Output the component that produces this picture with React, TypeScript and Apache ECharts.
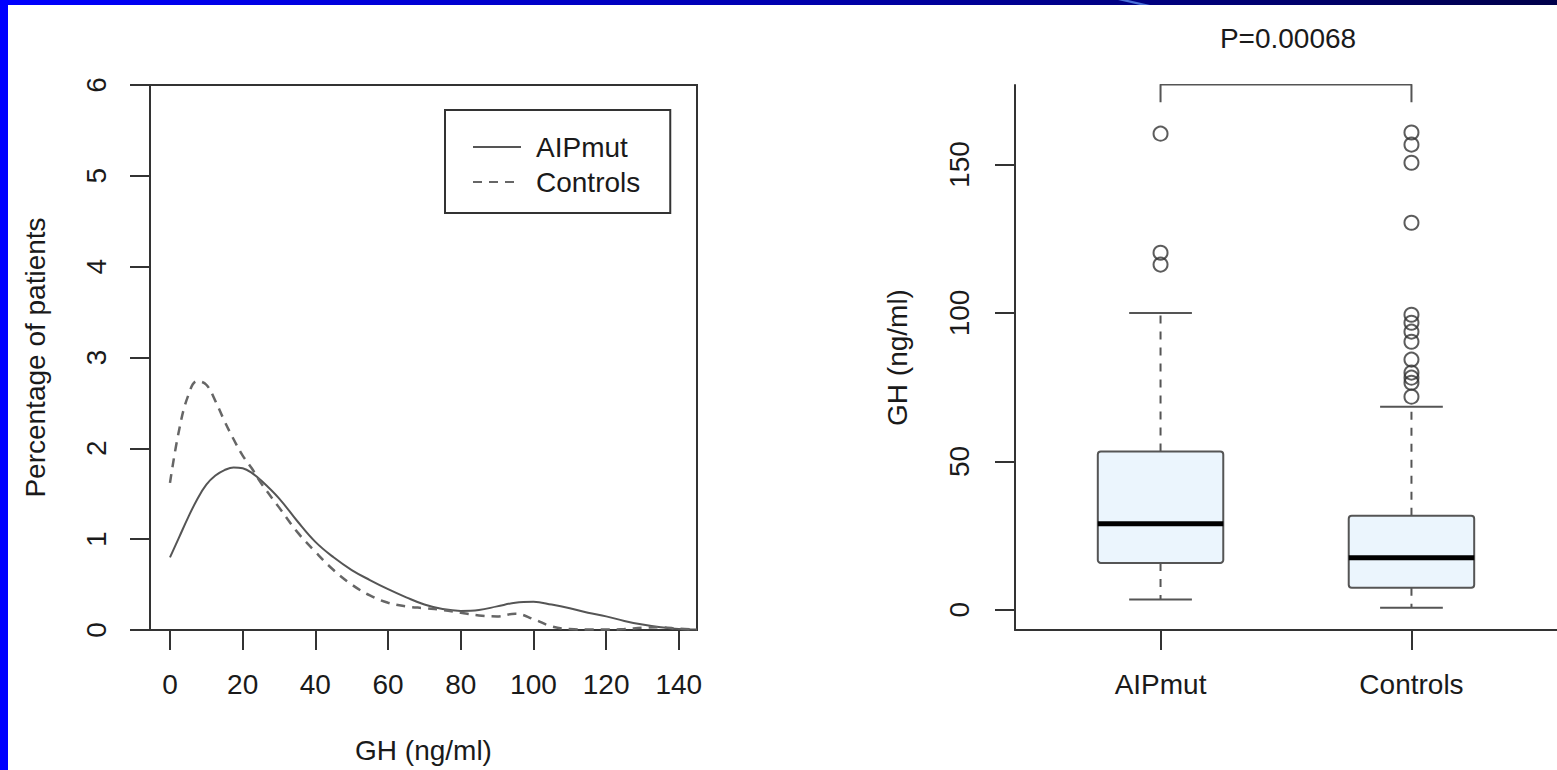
import React, { useEffect, useRef } from "react";
import * as echarts from "echarts";

// ---- Left panel: density curves ----
const densityX = [0, 2.5, 5, 7.5, 10, 12.5, 15, 17.5, 20, 22.5, 25, 30, 35, 40, 45, 50, 55, 60, 65, 70, 75, 80, 85, 90, 95, 100, 105, 110, 115, 120, 125, 130, 135, 140, 145];
const aipmutDensity = [0.8, 1.02, 1.24, 1.44, 1.6, 1.7, 1.76, 1.79, 1.78, 1.73, 1.65, 1.45, 1.2, 0.97, 0.8, 0.66, 0.55, 0.45, 0.36, 0.28, 0.23, 0.21, 0.22, 0.26, 0.3, 0.31, 0.28, 0.24, 0.19, 0.15, 0.1, 0.06, 0.03, 0.01, 0.005];
const controlsDensity = [1.62, 2.2, 2.58, 2.74, 2.7, 2.52, 2.3, 2.1, 1.92, 1.78, 1.62, 1.35, 1.08, 0.86, 0.66, 0.5, 0.38, 0.3, 0.26, 0.24, 0.22, 0.19, 0.16, 0.15, 0.18, 0.12, 0.04, 0.01, 0.005, 0.005, 0.01, 0.025, 0.03, 0.015, 0.005];
const densityXTicks = [0, 20, 40, 60, 80, 100, 120, 140];
const densityYTicks = [0, 1, 2, 3, 4, 5, 6];

// ---- Right panel: boxplot ----
const groups = ["AIPmut", "Controls"];
// [low whisker, Q1, median, Q3, high whisker]
const aipmutBox = [3.5, 15.8, 29, 53.3, 100];
const controlsBox = [0.7, 7.4, 17.5, 31.7, 68.4];
const aipmutOutliers = [160.4, 120.3, 116.3];
const controlsOutliers = [160.8, 156.7, 150.6, 130.4, 99.4, 96.7, 93.7, 90.3, 84.3, 79.9, 78.2, 76.5, 71.8];
const boxYTicks = [0, 50, 100, 150];
const pValueText = "P=0.00068";
const bracketLow = 171;
const bracketHigh = 177;

const FONT = "Liberation Sans";
const AXIS = "#333";
const TXT = "#1a1a1a";

export default function App() {
  const ref = useRef<HTMLDivElement>(null);

  useEffect(() => {
    if (!ref.current) return;
    const chart = echarts.init(ref.current, undefined, { renderer: "svg" });

    const lineA = densityX.map((x, i) => [x, aipmutDensity[i]]);
    const lineC = densityX.map((x, i) => [x, controlsDensity[i]]);
    const boxData = [
      [1, ...aipmutBox],
      [2, ...controlsBox],
    ];
    const outlierData = [
      ...aipmutOutliers.map((v) => [1, v]),
      ...controlsOutliers.map((v) => [2, v]),
    ];
    const bracket = [
      [1, bracketLow],
      [1, bracketHigh],
      [2, bracketHigh],
      [2, bracketLow],
    ];

    const labelStyle = { fontFamily: FONT, fontSize: 28, color: TXT };

    chart.setOption({
      animation: false,
      backgroundColor: "#ffffff",
      textStyle: { fontFamily: FONT },
      legend: {
        show: true,
        orient: "vertical",
        left: 445,
        top: 110,
        padding: [22, 30, 16, 27],
        itemGap: 5,
        itemWidth: 48,
        itemHeight: 30,
        borderColor: AXIS,
        borderWidth: 2,
        borderRadius: 0,
        data: ["AIPmut", "Controls"],
        itemStyle: { opacity: 0 },
        textStyle: { fontFamily: FONT, fontSize: 28, color: TXT, lineHeight: 30, padding: [0, 0, 0, 10] },
      },
      grid: [
        { left: 150, top: 85, width: 547, height: 545, show: true, borderColor: AXIS, borderWidth: 2, backgroundColor: "transparent" },
        { left: 1015, top: 85, width: 547, height: 545, show: false },
      ],
      xAxis: [
        {
          gridIndex: 0,
          type: "value",
          min: -5.5,
          max: 145,
          name: "GH (ng/ml)",
          nameLocation: "middle",
          nameGap: 106,
          nameTextStyle: labelStyle,
          axisLine: { show: false, onZero: false },
          axisTick: { show: true, length: 20, customValues: densityXTicks, lineStyle: { color: AXIS, width: 2 } },
          axisLabel: { customValues: densityXTicks, margin: 40, ...labelStyle },
          splitLine: { show: false },
        },
        {
          gridIndex: 1,
          type: "value",
          min: 0.42,
          max: 2.58,
          axisLine: { show: true, onZero: false, lineStyle: { color: AXIS, width: 2 } },
          axisTick: { show: true, length: 20, customValues: [1, 2], lineStyle: { color: AXIS, width: 2 } },
          axisLabel: {
            customValues: [1, 2],
            margin: 40,
            formatter: (v: number) => groups[Math.round(v) - 1] ?? "",
            ...labelStyle,
          },
          splitLine: { show: false },
        },
      ],
      yAxis: [
        {
          gridIndex: 0,
          type: "value",
          min: 0,
          max: 6,
          name: "Percentage of patients",
          nameLocation: "middle",
          nameRotate: 90,
          nameGap: 101,
          nameTextStyle: labelStyle,
          axisLine: { show: false, onZero: false },
          axisTick: { show: true, length: 20, customValues: densityYTicks, lineStyle: { color: AXIS, width: 2 } },
          axisLabel: { customValues: densityYTicks, rotate: 90, margin: 40, ...labelStyle },
          splitLine: { show: false },
        },
        {
          gridIndex: 1,
          type: "value",
          min: -6.8,
          max: 176.8,
          name: "GH (ng/ml)",
          nameLocation: "middle",
          nameRotate: 90,
          nameGap: 104,
          nameTextStyle: labelStyle,
          axisLine: { show: true, onZero: false, lineStyle: { color: AXIS, width: 2 } },
          axisTick: { show: true, length: 20, customValues: boxYTicks, lineStyle: { color: AXIS, width: 2 } },
          axisLabel: { customValues: boxYTicks, rotate: 90, margin: 42, ...labelStyle },
          splitLine: { show: false },
        },
      ],
      graphic: [
        {
          type: "rect",
          shape: { x: 0, y: 0, width: 1557, height: 5 },
          style: {
            fill: new echarts.graphic.LinearGradient(0, 0, 1, 0, [
              { offset: 0, color: "#0000ff" },
              { offset: 0.5, color: "#0000b0" },
              { offset: 1, color: "#00004a" },
            ]),
          },
          z: 100,
        },
        {
          type: "polygon",
          shape: { points: [[1118, 0], [1128, 0], [1150, 5], [1140, 5]] },
          style: { fill: "#4a6fd8" },
          z: 101,
        },
        {
          type: "rect",
          shape: { x: 0, y: 0, width: 8, height: 770 },
          style: { fill: "#0000ff" },
          z: 102,
        },
        {
          type: "text",
          x: 1288,
          y: 38,
          style: {
            text: pValueText,
            fontFamily: FONT,
            fontSize: 28,
            fill: TXT,
            align: "center",
            verticalAlign: "middle",
          },
        },
      ],
      series: [
        {
          name: "AIPmut",
          type: "line",
          xAxisIndex: 0,
          yAxisIndex: 0,
          data: lineA,
          smooth: 0.4,
          symbol: "none",
          lineStyle: { color: "#555", width: 2, type: "solid" },
          itemStyle: { color: "#555" },
        },
        {
          name: "Controls",
          type: "line",
          xAxisIndex: 0,
          yAxisIndex: 0,
          data: lineC,
          smooth: 0.4,
          symbol: "none",
          lineStyle: { color: "#666", width: 2.5, type: [9, 7] },
          itemStyle: { color: "#666" },
        },
        {
          name: "box",
          type: "custom",
          xAxisIndex: 1,
          yAxisIndex: 1,
          data: boxData,
          encode: { x: 0, y: [1, 2, 3, 4, 5] },
          renderItem: (params: any, api: any) => {
            const x = api.value(0);
            const low = api.value(1);
            const q1 = api.value(2);
            const med = api.value(3);
            const q3 = api.value(4);
            const high = api.value(5);
            const half = api.size([0.25, 0])[0];
            const capHalf = api.size([0.125, 0])[0];
            const [cx, yLow] = api.coord([x, low]);
            const yQ1 = api.coord([x, q1])[1];
            const yMed = api.coord([x, med])[1];
            const yQ3 = api.coord([x, q3])[1];
            const yHigh = api.coord([x, high])[1];
            const grey = { stroke: "#555", lineWidth: 2 };
            return {
              type: "group",
              children: [
                { type: "line", shape: { x1: cx, y1: yQ3, x2: cx, y2: yHigh }, style: { ...grey, lineDash: [8, 8] } },
                { type: "line", shape: { x1: cx, y1: yQ1, x2: cx, y2: yLow }, style: { ...grey, lineDash: [8, 8] } },
                { type: "line", shape: { x1: cx - capHalf, y1: yHigh, x2: cx + capHalf, y2: yHigh }, style: grey },
                { type: "line", shape: { x1: cx - capHalf, y1: yLow, x2: cx + capHalf, y2: yLow }, style: grey },
                {
                  type: "rect",
                  shape: { x: cx - half, y: yQ3, width: half * 2, height: yQ1 - yQ3, r: 3 },
                  style: { fill: "#ebf5fd", stroke: "#555", lineWidth: 2 },
                },
                { type: "line", shape: { x1: cx - half, y1: yMed, x2: cx + half, y2: yMed }, style: { stroke: "#000", lineWidth: 5 } },
              ],
            };
          },
        },
        {
          name: "outliers",
          type: "scatter",
          xAxisIndex: 1,
          yAxisIndex: 1,
          data: outlierData,
          symbol: "circle",
          symbolSize: 14,
          itemStyle: { color: "rgba(0,0,0,0)", borderColor: "#333", borderWidth: 2 },
        },
        {
          name: "bracket",
          type: "line",
          xAxisIndex: 1,
          yAxisIndex: 1,
          data: bracket,
          symbol: "none",
          lineStyle: { color: "#555", width: 2 },
        },
      ],
    });

    return () => chart.dispose();
  }, []);

  return (
    <div
      ref={ref}
      style={{ position: "absolute", left: 0, top: 0, width: 1557, height: 770, background: "#fff" }}
    />
  );
}
